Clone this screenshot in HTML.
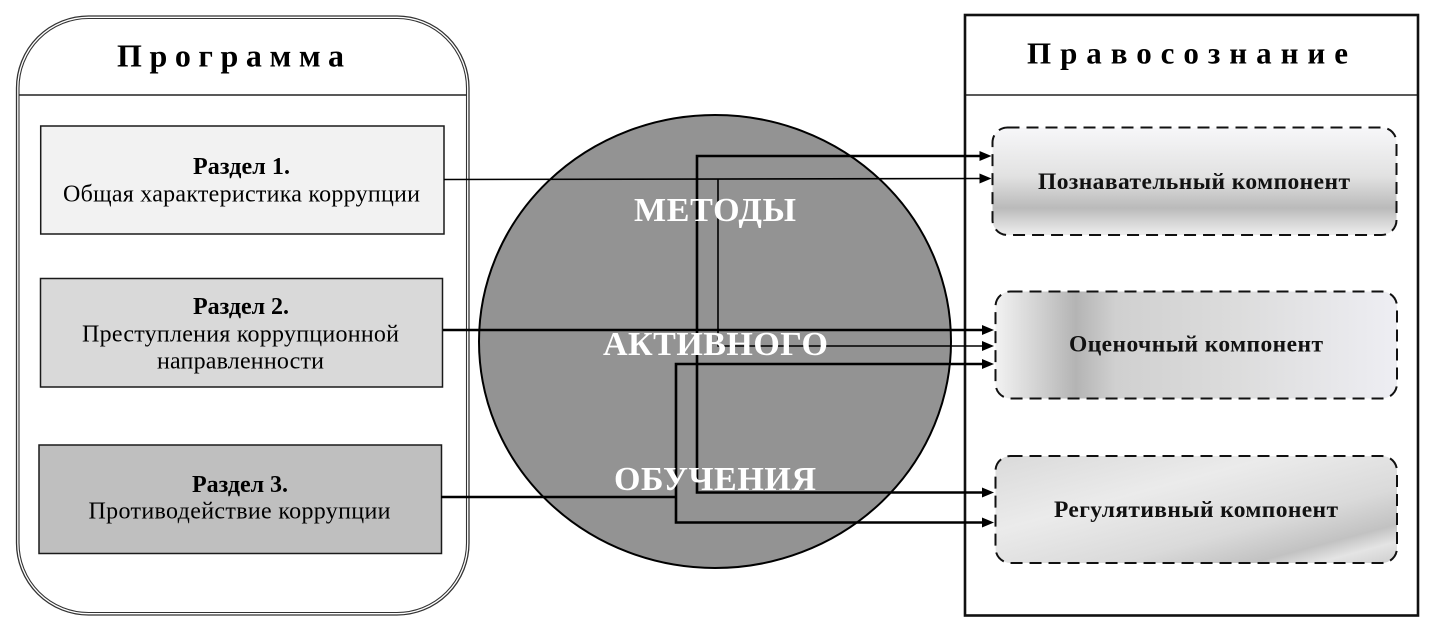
<!DOCTYPE html>
<html>
<head>
<meta charset="utf-8">
<style>
  html, body { margin: 0; padding: 0; background: #ffffff; }
  svg { display: block; }
  .serif { font-family: "Liberation Serif", "DejaVu Serif", serif; }
</style>
</head>
<body>
<svg width="1436" height="636" viewBox="0 0 1436 636" xmlns="http://www.w3.org/2000/svg">
  <defs>
    <linearGradient id="g1" x1="0" y1="0" x2="0" y2="1">
      <stop offset="0" stop-color="#f7f7f9"/>
      <stop offset="0.45" stop-color="#e2e2e2"/>
      <stop offset="0.75" stop-color="#bababa"/>
      <stop offset="0.88" stop-color="#d6d6d6"/>
      <stop offset="1" stop-color="#eeeeee"/>
    </linearGradient>
    <linearGradient id="g2" x1="0" y1="0" x2="1" y2="0">
      <stop offset="0" stop-color="#f2f2f2"/>
      <stop offset="0.1" stop-color="#d4d4d4"/>
      <stop offset="0.2" stop-color="#b4b4b4"/>
      <stop offset="0.3" stop-color="#d0d0d0"/>
      <stop offset="0.6" stop-color="#dcdcdc"/>
      <stop offset="1" stop-color="#eeeef3"/>
    </linearGradient>
    <linearGradient id="g3" x1="0" y1="0" x2="1" y2="1">
      <stop offset="0" stop-color="#dadada"/>
      <stop offset="0.35" stop-color="#ebebeb"/>
      <stop offset="0.65" stop-color="#dadada"/>
      <stop offset="0.82" stop-color="#c2c2c2"/>
      <stop offset="0.9" stop-color="#e4e4e4"/>
      <stop offset="1" stop-color="#cecece"/>
    </linearGradient>
  </defs>

  <!-- Left container (double rounded border) -->
  <rect x="16.5" y="16" width="452.5" height="599" rx="72" ry="72" fill="#ffffff" stroke="#333" stroke-width="1.3"/>
  <rect x="19" y="18.5" width="447.5" height="594" rx="69.5" ry="69.5" fill="none" stroke="#333" stroke-width="1.1"/>
  <line x1="19" y1="95" x2="466.5" y2="95" stroke="#222" stroke-width="1.5"/>
  <text class="serif" x="117" y="66.5" font-size="32" font-weight="bold" fill="#000" textLength="227" lengthAdjust="spacing">Программа</text>

  <!-- Section boxes -->
  <rect x="40.7" y="126" width="403.3" height="108" fill="#f2f2f2" stroke="#1a1a1a" stroke-width="1.5"/>
  <text class="serif" x="193" y="174" font-size="24" font-weight="bold" fill="#000" textLength="97" lengthAdjust="spacing">Раздел 1.</text>
  <text class="serif" x="63" y="201.5" font-size="24" fill="#000" textLength="357" lengthAdjust="spacing">Общая характеристика коррупции</text>

  <rect x="40.5" y="278.5" width="402" height="108.5" fill="#d9d9d9" stroke="#1a1a1a" stroke-width="1.5"/>
  <text class="serif" x="193" y="314" font-size="24" font-weight="bold" fill="#000" textLength="96" lengthAdjust="spacing">Раздел 2.</text>
  <text class="serif" x="82" y="341.5" font-size="24" fill="#000" textLength="317" lengthAdjust="spacing">Преступления коррупционной</text>
  <text class="serif" x="157" y="368.5" font-size="24" fill="#000" textLength="167" lengthAdjust="spacing">направленности</text>

  <rect x="39" y="445" width="402.5" height="108.5" fill="#bfbfbf" stroke="#1a1a1a" stroke-width="1.5"/>
  <text class="serif" x="192" y="492" font-size="24" font-weight="bold" fill="#000" textLength="96" lengthAdjust="spacing">Раздел 3.</text>
  <text class="serif" x="88.5" y="518.5" font-size="24" fill="#000" textLength="302" lengthAdjust="spacing">Противодействие коррупции</text>

  <!-- Right container -->
  <rect x="965" y="15" width="453" height="600.5" fill="#ffffff" stroke="#111" stroke-width="2.6"/>
  <line x1="966" y1="95" x2="1417" y2="95" stroke="#222" stroke-width="1.5"/>
  <text class="serif" x="1027" y="63.5" font-size="31" font-weight="bold" fill="#000" textLength="321" lengthAdjust="spacing">Правосознание</text>

  <!-- Dashed component boxes -->
  <rect x="992.5" y="127.5" width="404" height="107.5" rx="15" ry="15" fill="url(#g1)" stroke="#111" stroke-width="2" stroke-dasharray="12 7"/>
  <text class="serif" x="1038" y="189" font-size="23.5" font-weight="bold" fill="#111" textLength="312" lengthAdjust="spacing">Познавательный компонент</text>

  <rect x="995.5" y="291.5" width="401.5" height="107" rx="15" ry="15" fill="url(#g2)" stroke="#111" stroke-width="2" stroke-dasharray="12 7"/>
  <text class="serif" x="1069" y="351.5" font-size="23.5" font-weight="bold" fill="#111" textLength="254" lengthAdjust="spacing">Оценочный компонент</text>

  <rect x="995.5" y="456" width="401.5" height="107" rx="15" ry="15" fill="url(#g3)" stroke="#111" stroke-width="2" stroke-dasharray="12 7"/>
  <text class="serif" x="1054" y="517" font-size="23.5" font-weight="bold" fill="#111" textLength="284" lengthAdjust="spacing">Регулятивный компонент</text>

  <!-- Central circle -->
  <ellipse cx="715" cy="341.5" rx="236" ry="226.5" fill="#939393" stroke="#000" stroke-width="2"/>

  <!-- Thin connectors (Раздел 1) -->
  <g fill="none" stroke="#000" stroke-width="1.6">
    <line x1="444" y1="179.5" x2="981" y2="178.5"/>
    <polyline points="718,179.5 718,346 983,346"/>
  </g>

  <!-- Thick connectors (Раздел 2, Раздел 3) -->
  <g fill="none" stroke="#000" stroke-width="2.6" stroke-linejoin="miter">
    <line x1="443" y1="330" x2="983" y2="330"/>
    <polyline points="697,330 697,156 981,156"/>
    <polyline points="697,330 697,492.5 983,492.5"/>
    <line x1="441" y1="497" x2="676" y2="497"/>
    <polyline points="983,364 676,364 676,522.5 983,522.5"/>
  </g>

  <!-- Arrowheads -->
  <g fill="#000">
    <polygon points="991.5,156 979.5,151 979.5,161"/>
    <polygon points="991.5,178.5 979.5,173.5 979.5,183.5"/>
    <polygon points="994,330 982,325 982,335"/>
    <polygon points="994,346 982,341 982,351"/>
    <polygon points="994,364 982,359 982,369"/>
    <polygon points="994,492.5 982,487.5 982,497.5"/>
    <polygon points="994,522.5 982,517.5 982,527.5"/>
  </g>

  <!-- Circle labels -->
  <g class="serif" font-size="34" font-weight="bold" fill="#ffffff">
    <text x="634" y="221" textLength="162" lengthAdjust="spacing">МЕТОДЫ</text>
    <text x="603" y="355" textLength="225" lengthAdjust="spacing">АКТИВНОГО</text>
    <text x="614" y="490" textLength="202" lengthAdjust="spacing">ОБУЧЕНИЯ</text>
  </g>
</svg>
</body>
</html>
